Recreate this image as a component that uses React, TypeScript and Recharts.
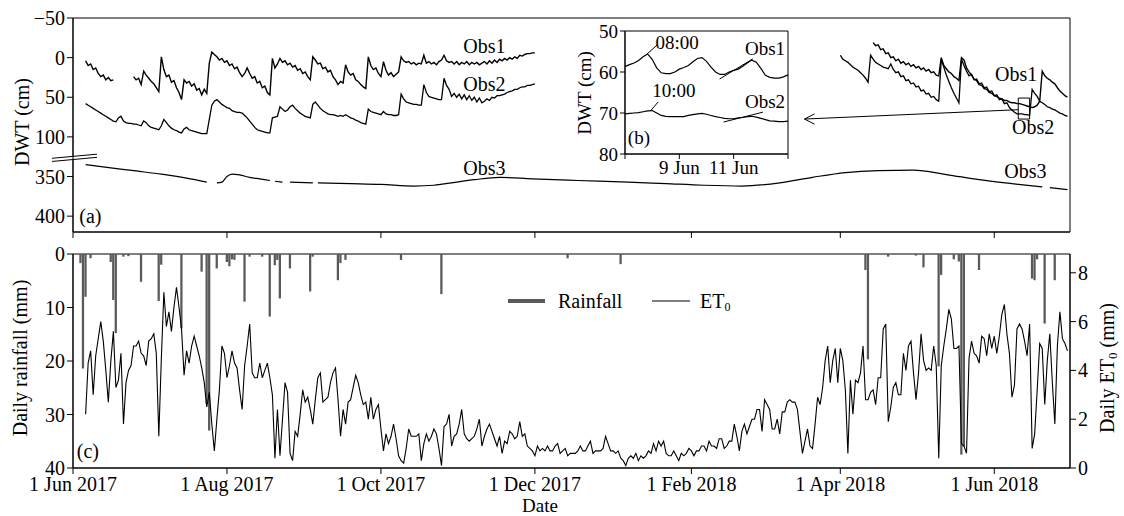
import React from "react";
import {
  ComposedChart,
  LineChart,
  Line,
  Bar,
  XAxis,
  YAxis,
  Label,
  Legend,
  ReferenceArea,
  ReferenceLine,
  ReferenceDot,
} from "recharts";

const FONT = '"Liberation Serif", "Times New Roman", Times, serif';
const INK = "#000";
const FS = 20; // main text size
const FS_IN = 19; // inset text size

// x is "days since 1 Jun 2017"
const dateTicks = [0, 61, 122, 183, 245, 304, 365];
const dateLabels = ["1 Jun 2017", "1 Aug 2017", "1 Oct 2017", "1 Dec 2017", "1 Feb 2018", "1 Apr 2018", "1 Jun 2018"];

// DWT axis is broken: 124..324 cm is cut out
const BREAK_GAP = 200;
const dwtTicks = [-50, 0, 50, 100, 350, 400];
const brk = (v: number) => (v > 200 ? v - BREAK_GAP : v);
const unbrk = (t: number) => (t > 124 ? t + BREAK_GAP : t);

// Obs1 (cm), daily, three pieces
const obs1A = [4, 10, 8, 15, 13, 20, 24, 22, 28, 25, 29, 28]; // from day 5
const obs1B = [ // from day 24
  24, 28, 26, 34, 17, 22, 26, 30, 33, 38,
  43, -1, 15, 24, 22, 31, 29, 38, 44, 53,
  28, 32, 30, 36, 33, 41, 39, 47, 40, 45,
  7, -7, -4, -1, 3, 1, 6, 4, 10, 8,
  14, 12, 19, 24, 20, 13, 20, 26, 24, 32,
  30, 38, 36, 44, 47, 1, 13, 8, 1, 6,
  4, 9, 7, 12, 10, 16, 14, 20, 18, 24,
  28, -1, 3, 8, 7, 14, 12, 18, 16, 24,
  28, 34, 30, 32, 9, 18, 22, 20, 28, 30,
  34, 37, 39, -1, 10, 15, 13, 20, 24, 5,
  16, 22, 19, 24, 21, 18, -1, 4, 6, 5,
  8, 6, 9, 7, 8, -3, 7, 5, 8, 6,
  9, 5, 3, -3, 4, 6, 5, 8, 5, 9,
  6, 8, 5, 9, 6, 8, 6, 9, 7, 5,
  8, 4, 7, 3, 6, 2, 4, 1, 3, 0,
  2, -1, 1, -3, -2, -4, -5, -5, -6, -6,
];
const obs1C = [ // from day 317
  -19, -15, -16, -10, -11, -5, -6, 0, -1, 4,
  2, 7, 5, 9, 7, 11, 9, 13, 11, 15,
  13, 17, 15, 19, 18, 22, 23, 0, 10, 14,
  18, 20, 24, 26, 29, 0, 3, 13, 18, 22,
  27, 29, 34, 35, 39, 40, 44, 45, 48, 49,
  51, 52, 54, 54, 56, 57, 57, 58, 58, 59,
  60, 61, 62, 63, 62, 60, 55, 17, 23, 26,
  28, 31, 33, 38, 42, 45, 48, 50,
];

// Obs2 (cm), daily
const obs2A = [ // from day 5
  58, 60, 62, 64, 66, 68, 70, 72, 74, 76,
  78, 80, 81, 76, 74, 80, 82, 83, 83, 84,
  84, 85, 86, 80, 82, 86, 88, 89, 90, 91,
  86, 78, 82, 86, 89, 91, 92, 94, 95, 90,
  88, 91, 92, 93, 94, 95, 96, 96, 96, 78,
  60, 55, 53, 56, 59, 61, 63, 64, 67, 68,
  69, 69, 70, 73, 76, 80, 84, 88, 91, 92,
  93, 94, 95, 95, 76, 75, 74, 62, 65, 68,
  66, 62, 60, 64, 67, 70, 72, 74, 75, 76,
  59, 56, 60, 64, 67, 69, 71, 72, 72, 73,
  74, 73, 74, 72, 74, 76, 77, 79, 80, 82,
  83, 84, 65, 68, 69, 70, 71, 72, 68, 71,
  72, 72, 73, 73, 72, 46, 52, 56, 57, 58,
  59, 59, 60, 60, 34, 44, 49, 50, 51, 52,
  53, 53, 26, 35, 40, 49, 45, 50, 46, 52,
  47, 53, 48, 54, 50, 56, 51, 57, 55, 52,
  54, 50, 51, 48, 48, 47, 46, 44, 43, 42,
  40, 40, 38, 37, 37, 35, 35, 34, 33,
];
const obs2B = [ // from day 304
  -3, 2, 4, 6, 9, 12, 14, 16, 19, 22,
  26, 31, -3, 2, 6, 8, 10, 12, 13, 14,
  8, 15, 19, 18, 24, 23, 29, 28, 33, 32,
  37, 36, 42, 41, 46, 45, 50, 49, 53, 55,
  2, 12, 22, 30, 38, 45, 51, 57, 2, 10,
  17, 23, 21, 28, 27, 33, 32, 38, 37, 43,
  42, 48, 47, 53, 52, 58, 57, 63, 66, 69,
  71, 71, 71, 72, 72, 73, 40, 45, 49, 55,
  57, 59, 62, 63, 65, 66, 68, 70, 71, 73,
  74,
];

// Obs3 (cm), sparse, null = gap in record
const obs3Days = [5, 15, 25, 35, 45, 53, 55, 57, 59, 61, 63, 66, 70, 74, 78, 79, 80, 83, 84, 86, 95, 96, 97, 110, 122, 135, 143, 150, 159, 169, 182, 200, 220, 235, 250, 265, 280, 293, 306, 319, 333, 346, 359, 372, 384, 385, 387, 394];
const obs3Cm = [335, 339, 343, 347, 352, 357, null, 358, 357, 350, 347, 348, 351, 353, 355, null, 356, 357, null, 357, 358, null, 358, 359, 360, 362, 361, 358, 354, 351, 353, 355, 357, 359, 361, 362, 358, 351, 345, 342.5, 342, 347.5, 354, 359, 363, null, 364, 366.5];

// rainfall (mm), only rainy days
const rainDays = [3, 4, 5, 7, 15, 16, 17, 20, 22, 27, 34, 35, 43, 51, 53, 54, 57, 61, 62, 63, 64, 68, 70, 75, 78, 80, 81, 82, 86, 94, 95, 105, 106, 108, 130, 146, 196, 217, 314, 315, 323, 334, 337, 343, 344, 349, 351, 352, 353, 359, 380, 381, 382, 385, 389];
const rainMm = [1.7, 21.4, 8, 0.8, 1.5, 8.6, 14.8, 0.5, 0.4, 5.2, 8.8, 2, 13.9, 3.3, 28, 33, 2.7, 1.5, 2.3, 1, 1.1, 8.9, 0.5, 0.5, 11.7, 2.1, 1.1, 8.3, 2.7, 7, 0.5, 4.9, 1.7, 1.1, 1.1, 7.5, 0.8, 1.9, 3, 19.7, 0.5, 0.3, 2.5, 21, 3.9, 1, 1.4, 37.5, 36, 3, 4.6, 4.9, 1, 13, 4.9];

// daily ET0 (mm) from day 5
const ET0_START = 5;
const et0 = [
  2.2, 4.3, 4.8, 3.0, 4.6, 5.3, 6.0, 5.2, 4.0, 2.7,
  4.4, 5.6, 3.3, 3.6, 4.7, 1.8, 3.5, 4.0, 4.2, 5.0,
  5.0, 5.2, 4.7, 4.6, 4.2, 5.2, 5.3, 5.5, 4.7, 1.3,
  4.5, 7.2, 5.8, 6.4, 5.6, 6.6, 7.4, 6.6, 5.7, 3.8,
  4.8, 4.3, 5.0, 5.4, 5.0, 4.6, 4.1, 3.5, 2.5, 3.1,
  1.8, 0.7, 2.0, 3.2, 5.0, 4.7, 3.7, 4.2, 4.8, 4.3,
  4.1, 3.2, 2.4, 4.2, 5.0, 5.9, 3.9, 3.7, 3.7, 4.3,
  3.7, 4.0, 4.3, 3.7, 3.0, 0.4, 2.4, 0.5, 2.0, 3.5,
  3.1, 0.6, 0.3, 1.5, 1.3, 2.2, 3.2, 2.7, 2.9, 2.4,
  1.8, 2.8, 3.7, 3.9, 2.7, 2.8, 2.9, 3.5, 3.9, 4.1,
  2.8, 1.3, 2.4, 1.8, 2.7, 2.8, 3.3, 3.8, 3.5, 3.0,
  2.6, 2.7, 2.0, 2.9, 2.0, 2.4, 2.6, 1.6, 0.7, 1.4,
  1.0, 1.3, 1.8, 1.2, 0.5, 0.3, 0.2, 0.8, 1.6, 1.3,
  1.3, 1.3, 1.4, 0.3, 1.0, 1.4, 1.1, 1.3, 1.6, 1.4,
  0.8, 0.1, 1.7, 1.8, 2.2, 0.9, 1.3, 1.4, 1.8, 2.4,
  1.4, 1.2, 1.1, 1.2, 1.3, 1.6, 2.0, 0.9, 1.3, 1.6,
  1.8, 1.5, 1.2, 0.9, 1.3, 0.6, 1.1, 1.0, 1.5, 1.4,
  1.2, 1.3, 1.9, 1.3, 1.4, 0.9, 0.8, 0.7, 0.5, 0.9,
  0.7, 0.8, 0.7, 0.9, 0.7, 0.7, 0.9, 1.0, 0.6, 0.7,
  0.8, 0.5, 0.6, 0.6, 0.6, 0.7, 0.9, 0.7, 0.7, 0.9,
  1.1, 0.6, 0.7, 0.7, 0.7, 0.8, 1.3, 1.0, 0.7, 0.7,
  0.6, 0.7, 0.4, 0.3, 0.1, 0.4, 0.5, 0.4, 0.6, 0.3,
  0.5, 0.4, 0.5, 0.7, 0.6, 1.0, 0.7, 1.1, 0.9, 1.1,
  0.6, 0.5, 0.5, 0.7, 0.5, 0.3, 0.6, 0.5, 0.6, 0.8,
  0.7, 0.5, 0.7, 0.7, 0.9, 0.9, 0.7, 1.1, 0.9, 0.9,
  0.8, 1.2, 1.2, 0.8, 0.9, 1.1, 1.1, 1.8, 1.3, 0.7,
  1.5, 1.8, 1.4, 1.7, 2.0, 2.0, 2.4, 2.4, 1.5, 2.8,
  2.6, 2.4, 1.6, 1.6, 2.0, 1.4, 2.3, 2.3, 2.7, 2.8,
  2.7, 2.7, 2.4, 1.5, 0.6, 1.1, 1.6, 0.9, 0.8, 1.8,
  2.9, 2.6, 3.3, 4.4, 5.0, 3.5, 4.4, 4.9, 3.5, 4.9,
  4.4, 3.2, 0.6, 3.6, 2.2, 3.6, 3.5, 3.9, 5.0, 2.8,
  2.8, 3.1, 3.2, 2.6, 3.7, 3.7, 5.7, 5.9, 1.9, 2.5,
  3.3, 3.5, 3.0, 3.0, 4.7, 4.0, 5.0, 5.2, 3.9, 2.8,
  3.9, 5.5, 4.4, 4.0, 4.1, 4.0, 5.0, 4.2, 0.4, 4.2,
  5.0, 5.7, 6.5, 6.1, 4.9, 4.9, 5.0, 1.0, 0.9, 0.6,
  4.5, 5.2, 4.7, 4.6, 4.3, 5.4, 5.3, 4.6, 5.5, 4.9,
  5.4, 4.7, 5.4, 6.3, 6.7, 5.5, 4.7, 2.9, 3.4, 5.7,
  5.9, 5.7, 5.2, 4.6, 5.9, 0.8, 1.4, 3.2, 5.1, 4.9,
  2.6, 4.4, 5.5, 3.5, 1.8, 5.0, 6.4, 5.3, 5.1, 4.8,
];

// inset (b): 7-13 Jun 2018, every 4 h
const INSET_STEP = 4;
const insetObs1 = [58.7, 58.2, 57.8, 57.2, 56.3, 55.6, 56.9, 59.0, 60.2, 60.4, 60.4, 60.0, 59.3, 58.9, 58.4, 57.5, 56.7, 56.5, 57.4, 58.8, 60.0, 60.6, 60.6, 60.0, 59.6, 59.3, 58.6, 57.8, 57.1, 57.6, 59.1, 60.8, 61.3, 61.5, 61.5, 61.2, 60.7];
const insetObs2 = [70.2, 70.1, 70.0, 69.9, 69.7, 69.5, 69.4, 70.0, 70.6, 70.8, 70.9, 70.9, 70.9, 70.9, 70.6, 70.4, 70.2, 70.1, 70.3, 70.6, 70.9, 71.1, 71.3, 71.4, 71.4, 71.2, 71.1, 70.9, 70.8, 71.0, 71.3, 71.6, 71.9, 72.0, 72.1, 72.1, 72.0];
const insetTicks = [0, 48, 96, 144];
const insetTickLabels = ["", "9 Jun", "11 Jun", ""];

// tables for the library
const seg = (start: number, vals: (number | null)[]) => vals.map((v, i) => ({ day: start + i, v }));
const gap = (day: number) => ({ day, v: null as number | null });
const obs1Rows = [...seg(5, obs1A), gap(20), ...seg(24, obs1B), gap(250), ...seg(317, obs1C)];
const obs2Rows = [...seg(5, obs2A), gap(250), ...seg(304, obs2B)];
const obs3Rows = obs3Days.map((d, i) => ({ day: d, v: obs3Cm[i] == null ? null : brk(obs3Cm[i] as number) }));

const dailyRows = Array.from({ length: 395 }, (_, d) => {
  const r = rainDays.indexOf(d);
  const e = d - ET0_START;
  return { day: d, rain: r >= 0 ? rainMm[r] : null, et0: e >= 0 && e < et0.length ? et0[e] : null };
});

const inset1Rows = insetObs1.map((v, i) => ({ h: i * INSET_STEP, v }));
const inset2Rows = insetObs2.map((v, i) => ({ h: i * INSET_STEP, v }));

const tickStyle = { fill: INK, fontSize: FS, fontFamily: FONT };
const insetTick = { fill: INK, fontSize: FS_IN, fontFamily: FONT };

const fmtDwt = (t: number) => {
  const v = unbrk(t);
  return v < 0 ? `\u2212${Math.abs(v)}` : String(v);
};

const note =
  (s: string, anchor: "start" | "middle" = "middle", size = FS) =>
  (p: any) => (
    <text x={p.cx} y={p.cy} textAnchor={anchor} dominantBaseline="central" fontFamily={FONT} fontSize={size} fill={INK}>
      {s}
    </text>
  );

const vTitle = (content: React.ReactNode, dx: number, dy: number, size = FS) => (props: any) => {
  const vb = props.viewBox || { x: 0, y: 0 };
  const cx = vb.x + dx;
  const cy = vb.y + dy;
  return (
    <text x={cx} y={cy} transform={`rotate(-90 ${cx} ${cy})`} textAnchor="middle" dominantBaseline="central" fontFamily={FONT} fontSize={size} fill={INK}>
      {content}
    </text>
  );
};

const dateTitle = (props: any) => {
  const vb = props.viewBox || { x: 0, y: 0 };
  return (
    <text x={vb.x + 467} y={vb.y + 37} textAnchor="middle" dominantBaseline="central" fontFamily={FONT} fontSize={19} fill={INK}>
      Date
    </text>
  );
};

const renderLegend = () => (
  <svg width={260} height={30}>
    <line x1={3} x2={40} y1={15} y2={15} stroke="#5a5a5a" strokeWidth={4} />
    <text x={53} y={15} dominantBaseline="central" fontFamily={FONT} fontSize={FS} fill={INK}>
      Rainfall
    </text>
    <line x1={147} x2={185} y1={15} y2={15} stroke={INK} strokeWidth={1} />
    <text x={195} y={15} dominantBaseline="central" fontFamily={FONT} fontSize={FS} fill={INK}>
      ET<tspan dy={6} fontSize={12}>0</tspan>
    </text>
  </svg>
);

function DwtPanel() {
  return (
    <ComposedChart width={1124} height={250} margin={{ top: 18, right: 54, bottom: 8, left: 13 }}>
      <XAxis
        type="number"
        dataKey="day"
        domain={[0, 395]}
        ticks={dateTicks}
        interval={0}
        tickFormatter={() => ""}
        allowDataOverflow
        height={10}
        tickSize={6}
        stroke={INK}
      />
      <YAxis
        yAxisId="d"
        type="number"
        domain={[-50, 220]}
        reversed
        allowDataOverflow
        ticks={dwtTicks.map(brk)}
        interval={0}
        tickFormatter={fmtDwt}
        width={60}
        tickSize={6}
        tick={tickStyle}
        stroke={INK}
      >
        <Label content={vTitle("DWT (cm)", 9, 104)} />
      </YAxis>
      <ReferenceArea yAxisId="d" x1={0} x2={395} y1={-50} y2={220} fill="none" stroke={INK} strokeWidth={1} />

      {/* axis break marks */}
      <ReferenceLine yAxisId="d" segment={[{ x: -8.3, y: 129 }, { x: 9.5, y: 123.5 }]} stroke="#fff" strokeWidth={3} ifOverflow="visible" />
      <ReferenceLine yAxisId="d" segment={[{ x: -8.3, y: 127 }, { x: 9.5, y: 121.8 }]} stroke={INK} strokeWidth={1} ifOverflow="visible" />
      <ReferenceLine yAxisId="d" segment={[{ x: -8.3, y: 131 }, { x: 9.5, y: 125.8 }]} stroke={INK} strokeWidth={1} ifOverflow="visible" />

      <Line yAxisId="d" data={obs1Rows} dataKey="v" stroke={INK} strokeWidth={1.4} dot={false} isAnimationActive={false} />
      <Line yAxisId="d" data={obs2Rows} dataKey="v" stroke={INK} strokeWidth={1.3} dot={false} isAnimationActive={false} />
      <Line yAxisId="d" data={obs3Rows} dataKey="v" type="monotone" stroke={INK} strokeWidth={1.2} dot={false} isAnimationActive={false} />

      {/* zoom box and arrow to inset */}
      <ReferenceArea yAxisId="d" x1={374.5} x2={379} y1={51} y2={77.5} fill="none" stroke={INK} strokeWidth={1} />
      <ReferenceLine yAxisId="d" segment={[{ x: 374.5, y: 65.7 }, { x: 289.8, y: 77.5 }]} stroke={INK} strokeWidth={1} />
      <ReferenceLine yAxisId="d" segment={[{ x: 289.8, y: 77.5 }, { x: 293.8, y: 71 }]} stroke={INK} strokeWidth={1} />
      <ReferenceLine yAxisId="d" segment={[{ x: 289.8, y: 77.5 }, { x: 293.8, y: 84 }]} stroke={INK} strokeWidth={1} />

      <ReferenceDot yAxisId="d" x={163} y={-14.7} r={1} shape={note("Obs1")} ifOverflow="visible" />
      <ReferenceDot yAxisId="d" x={163} y={33.3} r={1} shape={note("Obs2")} ifOverflow="visible" />
      <ReferenceDot yAxisId="d" x={163} y={139.3} r={1} shape={note("Obs3")} ifOverflow="visible" />
      <ReferenceDot yAxisId="d" x={373.7} y={20.7} r={1} shape={note("Obs1")} ifOverflow="visible" />
      <ReferenceDot yAxisId="d" x={380.4} y={87.5} r={1} shape={note("Obs2")} ifOverflow="visible" />
      <ReferenceDot yAxisId="d" x={377.3} y={143} r={1} shape={note("Obs3")} ifOverflow="visible" />
      <ReferenceDot yAxisId="d" x={2.5} y={199.8} r={1} shape={note("(a)", "start")} ifOverflow="visible" />
    </ComposedChart>
  );
}

function InsetPanel() {
  return (
    <LineChart width={240} height={160} margin={{ top: 11, right: 12, bottom: 0, left: 25 }}>
      <XAxis
        type="number"
        dataKey="h"
        domain={[0, 144]}
        ticks={insetTicks}
        interval={0}
        tickFormatter={(t: number) => insetTickLabels[insetTicks.indexOf(t)]}
        height={26}
        tickSize={5}
        tick={insetTick}
        stroke={INK}
      />
      <YAxis
        type="number"
        domain={[50, 80]}
        reversed
        ticks={[50, 60, 70, 80]}
        interval={0}
        width={40}
        tickSize={5}
        tick={insetTick}
        stroke={INK}
      >
        <Label content={vTitle("DWT (cm)", -1, 62, FS_IN)} />
      </YAxis>
      <ReferenceArea x1={0} x2={144} y1={50} y2={80} fill="none" stroke={INK} strokeWidth={1} />
      <Line data={inset1Rows} dataKey="v" stroke={INK} strokeWidth={1.2} dot={false} isAnimationActive={false} />
      <Line data={inset2Rows} dataKey="v" stroke={INK} strokeWidth={1.2} dot={false} isAnimationActive={false} />

      <ReferenceLine segment={[{ x: 19.6, y: 55.6 }, { x: 28.4, y: 53.4 }]} stroke={INK} strokeWidth={1} />
      <ReferenceLine segment={[{ x: 23.1, y: 69.3 }, { x: 29.3, y: 67.3 }]} stroke={INK} strokeWidth={1} />
      <ReferenceLine segment={[{ x: 83.6, y: 61.7 }, { x: 112.9, y: 56.8 }]} stroke={INK} strokeWidth={1} />
      <ReferenceLine segment={[{ x: 87.1, y: 72.2 }, { x: 121.8, y: 69.8 }]} stroke={INK} strokeWidth={1} />

      <ReferenceDot x={27} y={52.7} r={1} shape={note("08:00", "start", FS_IN)} ifOverflow="visible" />
      <ReferenceDot x={24} y={64.4} r={1} shape={note("10:00", "start", FS_IN)} ifOverflow="visible" />
      <ReferenceDot x={106} y={54.2} r={1} shape={note("Obs1", "start", FS_IN)} ifOverflow="visible" />
      <ReferenceDot x={106} y={67.1} r={1} shape={note("Obs2", "start", FS_IN)} ifOverflow="visible" />
      <ReferenceDot x={2.5} y={76} r={1} shape={note("(b)", "start", FS_IN)} ifOverflow="visible" />
    </LineChart>
  );
}

function WeatherPanel() {
  return (
    <ComposedChart width={1124} height={280} data={dailyRows} margin={{ top: 18, right: 14, bottom: 0, left: 13 }}>
      <XAxis
        type="number"
        dataKey="day"
        domain={[0, 395]}
        ticks={dateTicks}
        interval={0}
        tickFormatter={(t: number) => dateLabels[dateTicks.indexOf(t)]}
        allowDataOverflow
        height={48}
        tickSize={6}
        tickMargin={3}
        tick={tickStyle}
        stroke={INK}
      >
        <Label content={dateTitle} />
      </XAxis>
      <YAxis
        yAxisId="rain"
        type="number"
        domain={[0, 40]}
        reversed
        ticks={[0, 10, 20, 30, 40]}
        interval={0}
        width={60}
        tickSize={6}
        tick={tickStyle}
        stroke={INK}
      >
        <Label content={vTitle("Daily rainfall (mm)", 7, 104)} />
      </YAxis>
      <YAxis
        yAxisId="et"
        orientation="right"
        type="number"
        domain={[0, 8.77]}
        ticks={[0, 2, 4, 6, 8]}
        interval={0}
        width={40}
        tickSize={6}
        tick={tickStyle}
        stroke={INK}
      >
        <Label
          content={vTitle(
            <>
              Daily ET<tspan dy={5} fontSize={13}>0</tspan>
              <tspan dy={-5}> (mm)</tspan>
            </>,
            37,
            114
          )}
        />
      </YAxis>
      <ReferenceArea yAxisId="rain" x1={0} x2={395} y1={0} y2={40} fill="none" stroke={INK} strokeWidth={1} />
      <Bar yAxisId="rain" dataKey="rain" fill="#5a5a5a" barSize={3} isAnimationActive={false} />
      <Line yAxisId="et" dataKey="et0" stroke={INK} strokeWidth={1.1} dot={false} isAnimationActive={false} />
      <ReferenceDot yAxisId="rain" x={1.5} y={36.8} r={1} shape={note("(c)", "start")} ifOverflow="visible" />
      <Legend
        content={renderLegend}
        layout="horizontal"
        verticalAlign="middle"
        align="center"
        wrapperStyle={{ left: 505, top: 50, width: 260, height: 30 }}
      />
    </ComposedChart>
  );
}

export default function App() {
  return (
    <div style={{ position: "absolute", left: 0, top: 0, width: 1124, height: 516, background: "#fff", fontFamily: FONT }}>
      <div style={{ position: "absolute", left: 0, top: 0 }}>
        <DwtPanel />
      </div>
      <div style={{ position: "absolute", left: 560, top: 20 }}>
        <InsetPanel />
      </div>
      <div style={{ position: "absolute", left: 0, top: 236 }}>
        <WeatherPanel />
      </div>
    </div>
  );
}
